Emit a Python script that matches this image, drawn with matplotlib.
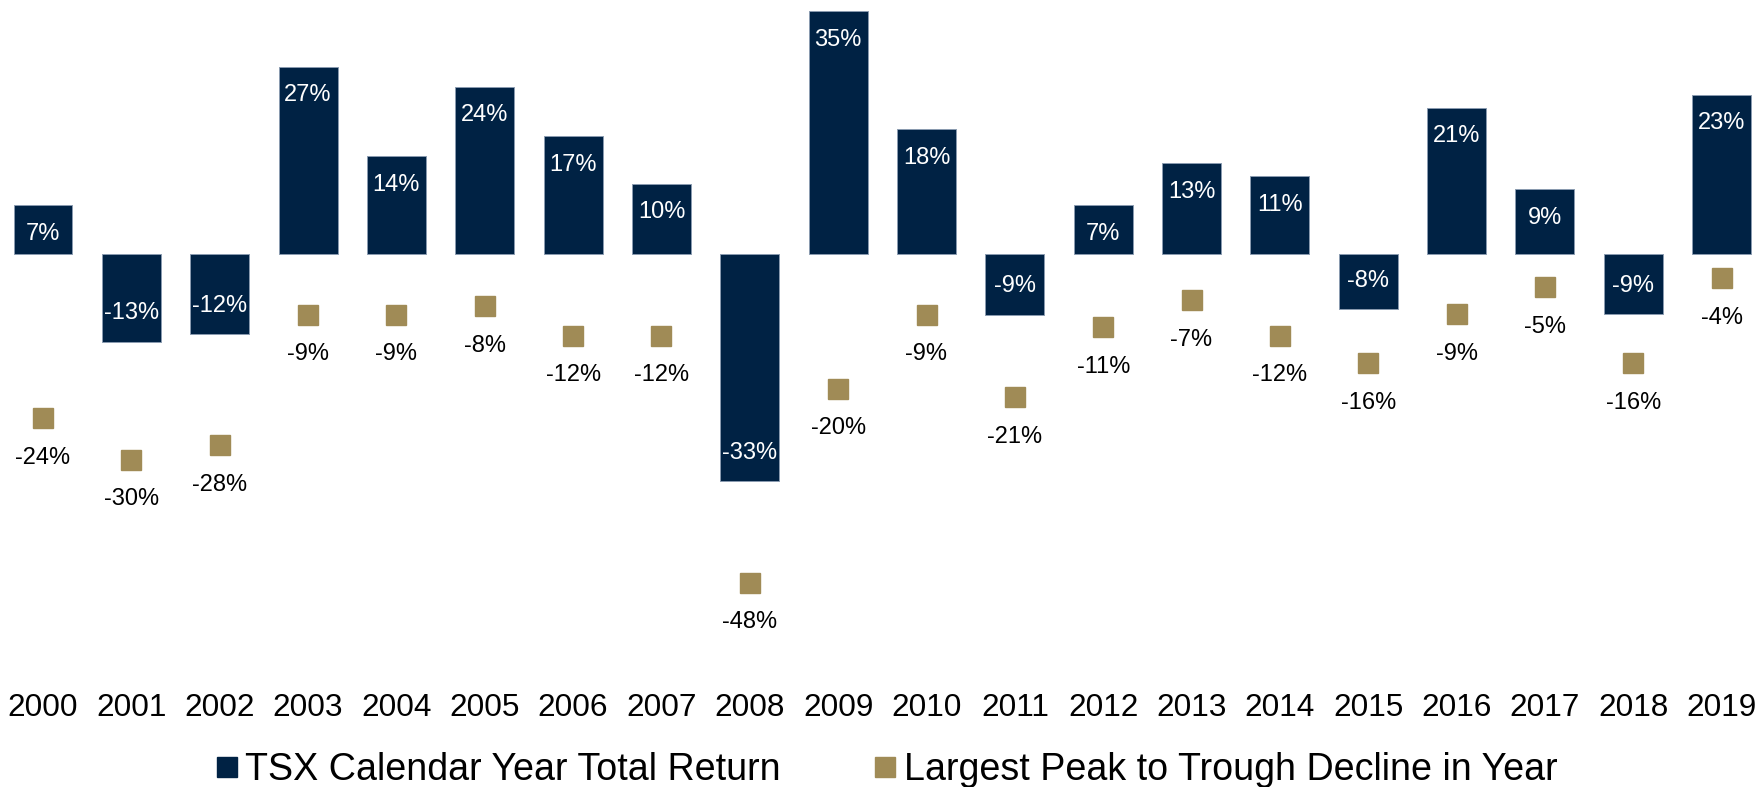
import matplotlib
matplotlib.use("Agg")
import matplotlib.pyplot as plt
from matplotlib.lines import Line2D
import numpy as np

plt.rcParams['font.family'] = ['Liberation Sans', 'DejaVu Sans']

# Chart data (percent)
years = ['2000', '2001', '2002', '2003', '2004', '2005', '2006', '2007', '2008', '2009',
         '2010', '2011', '2012', '2013', '2014', '2015', '2016', '2017', '2018', '2019']
totalReturn = [7.0, -12.8, -11.7, 27.1, 14.1, 24.2, 17.0, 10.1, -33.0, 35.1,
               18.0, -8.9, 7.0, 13.1, 11.2, -8.1, 21.1, 9.3, -8.8, 23.0]
peakToTrough = [-23.9, -29.9, -27.8, -8.9, -8.9, -7.6, -11.9, -11.9, -47.7, -19.6,
                -8.9, -20.8, -10.7, -6.8, -11.9, -15.9, -8.8, -4.9, -15.9, -3.6]

navy = '#002244'
gold = '#A08B56'

fig = plt.figure(figsize=(17.57, 7.87), dpi=100)
W, H = 1757.0, 787.0

# axes placed in pixel terms: zero line ~253px from top, ~6.9px per percent
pxPerPct = 6.9
zeroY = 253.5
axBottom = 685.0
step = 88.35
left = 43.0 - step / 2
ax = fig.add_axes([left / W, (H - axBottom) / H, 20 * step / W, axBottom / H])

x = np.arange(len(years))
ax.bar(x, totalReturn, width=0.667, color=navy, edgecolor='#8a9bb0', linewidth=0.7, zorder=2)
ax.plot(x, peakToTrough, linestyle='none', marker='s', markersize=13.7,
        color=gold, zorder=3)

for i, v in enumerate(totalReturn):
    off = -20.5 if v > 0 else 20.5
    ax.annotate(f"{v:.0f}%", xy=(i, v), xytext=(0, off), textcoords='offset points',
                ha='center', va='center', color='white', fontsize=17, zorder=4)

for i, v in enumerate(peakToTrough):
    ax.annotate(f"{v:.0f}%", xy=(i, v), xytext=(0, -28.5), textcoords='offset points',
                ha='center', va='center', color='black', fontsize=17, zorder=4)

ax.set_xlim(-0.5, len(years) - 0.5)
ax.set_ylim(-(axBottom - zeroY) / pxPerPct, zeroY / pxPerPct)
ax.set_xticks(x, years)
ax.tick_params(axis='x', length=0, labelsize=22.7, pad=6)
ax.set_yticks([])
for s in ax.spines.values():
    s.set_visible(False)

handles = [Line2D([], [], linestyle='none', marker='s', markersize=13.7, color=navy),
           Line2D([], [], linestyle='none', marker='s', markersize=13.7, color=gold)]
fig.legend(handles, ['TSX Calendar Year Total Return', 'Largest Peak to Trough Decline in Year'],
           loc='center', bbox_to_anchor=(887 / W, 17 / H), ncol=2, frameon=False,
           fontsize=27.1, handlelength=0.55, handletextpad=0.22, columnspacing=2.5,
           borderpad=0.2)

fig.savefig('out.png', dpi=100)
